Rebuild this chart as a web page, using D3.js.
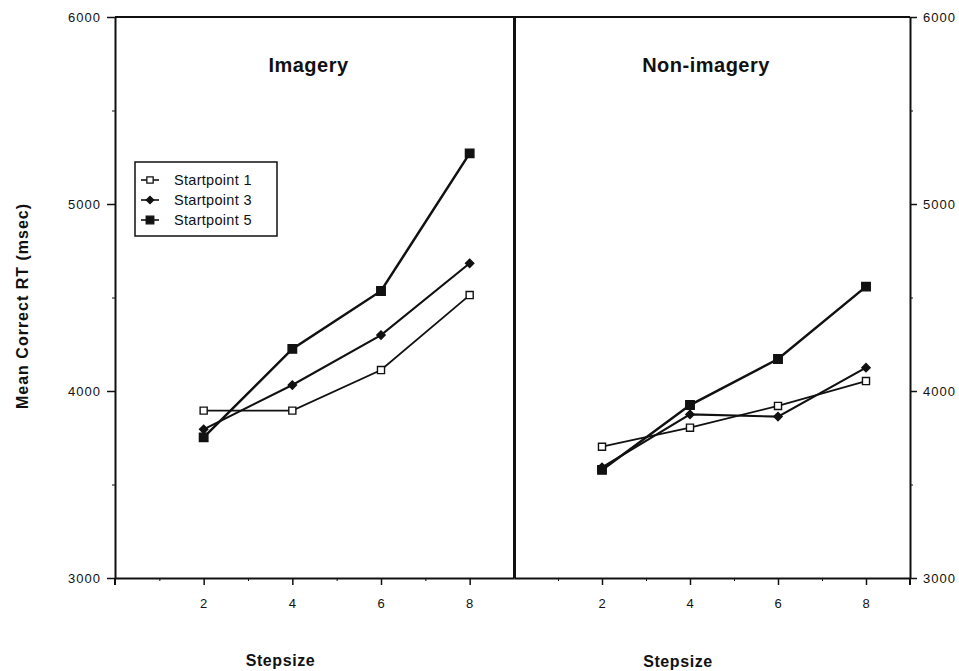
<!DOCTYPE html>
<html>
<head>
<meta charset="utf-8">
<script src="https://cdn.jsdelivr.net/npm/d3@7"></script>
<style>
  body { margin: 0; background: #fff; }
  svg { display: block; font-family: "Liberation Sans", Arial, Helvetica, sans-serif; }
  .tick text { font-size: 13px; letter-spacing: 1px; fill: #111; font-family: "Liberation Sans", Arial, sans-serif; }
  .axis path, .axis line { stroke: #111; }
</style>
</head>
<body>
<svg id="chart" width="959" height="671"></svg>
<script>
// values
const stepsizes = [2, 4, 6, 8];
const seriesNames = ['Startpoint 1', 'Startpoint 3', 'Startpoint 5'];
const imagerySP1 = [3895, 3895, 4112, 4513];
const imagerySP3 = [3795, 4032, 4299, 4683];
const imagerySP5 = [3752, 4225, 4535, 5271];
const nonImagerySP1 = [3702, 3804, 3920, 4053];
const nonImagerySP3 = [3592, 3875, 3863, 4125];
const nonImagerySP5 = [3578, 3925, 4171, 4558];
const yMajorTicks = [3000, 4000, 5000, 6000];
const yMinorTicks = [3500, 4500, 5500];
const xMajorTicks = [2, 4, 6, 8];
const xMinorTicks = [1, 3, 5, 7];

// diamond = square turned 45 degrees
const seriesStyle = [
  { symbol: d3.symbolSquare, size: 50, fill: '#fff', width: 1.8, rotate: 0 },
  { symbol: d3.symbolSquare, size: 34, fill: '#111', width: 2.1, rotate: 45 },
  { symbol: d3.symbolSquare, size: 72, fill: '#111', width: 2.5, rotate: 0 }
];

const svg = d3.select('#chart');
const plotTop = 17, plotBottom = 578;
const y = d3.scaleLinear().domain([3000, 6000]).range([plotBottom, plotTop]);

const panels = [
  { title: 'Imagery', x0: 115, x1: 514, series: [imagerySP1, imagerySP3, imagerySP5], labelY: 666 },
  { title: 'Non-imagery', x0: 514, x1: 910, series: [nonImagerySP1, nonImagerySP3, nonImagerySP5], labelY: 667 }
];

// top border and divider
svg.append('line').attr('x1', 115).attr('x2', 910).attr('y1', plotTop).attr('y2', plotTop)
  .attr('stroke', '#111').attr('stroke-width', 2);
svg.append('line').attr('x1', 514.5).attr('x2', 514.5).attr('y1', plotTop).attr('y2', plotBottom)
  .attr('stroke', '#111').attr('stroke-width', 3);

// y axes
const yLeft = svg.append('g').attr('class', 'axis').attr('transform', 'translate(115,0)')
  .call(d3.axisLeft(y).tickValues(yMajorTicks).tickSize(8).tickPadding(6).tickSizeOuter(0).tickFormat(d3.format('d')));
yLeft.select('.domain').attr('stroke-width', 2);
yLeft.selectAll('.tick line').attr('stroke-width', 1.5);
svg.append('g').attr('class', 'axis').attr('transform', 'translate(115,0)')
  .call(d3.axisLeft(y).tickValues(yMinorTicks).tickSize(3).tickFormat('').tickSizeOuter(0))
  .select('.domain').remove();

const yRight = svg.append('g').attr('class', 'axis').attr('transform', 'translate(910,0)')
  .call(d3.axisRight(y).tickValues(yMajorTicks).tickSize(7).tickPadding(6).tickSizeOuter(0).tickFormat(d3.format('d')));
yRight.select('.domain').attr('stroke-width', 2);
yRight.selectAll('.tick line').attr('stroke-width', 1.5);
svg.append('g').attr('class', 'axis').attr('transform', 'translate(910,0)')
  .call(d3.axisRight(y).tickValues(yMinorTicks).tickSize(3).tickFormat('').tickSizeOuter(0))
  .select('.domain').remove();

// extend outer axis lines slightly below the bottom
[115, 910].forEach(xp => {
  svg.append('line').attr('x1', xp).attr('x2', xp).attr('y1', plotBottom).attr('y2', plotBottom + 7)
    .attr('stroke', '#111').attr('stroke-width', 2);
});

svg.append('text')
  .attr('transform', 'translate(28,306) rotate(-90)')
  .attr('text-anchor', 'middle')
  .attr('font-size', 16).attr('font-weight', 'bold').attr('letter-spacing', 1)
  .attr('fill', '#111')
  .text('Mean Correct RT (msec)');

panels.forEach(p => {
  const x = d3.scaleLinear().domain([0, 9]).range([p.x0, p.x1]);

  const xAxis = svg.append('g').attr('class', 'axis').attr('transform', `translate(0,${plotBottom})`)
    .call(d3.axisBottom(x).tickValues(xMajorTicks).tickSize(7).tickPadding(14).tickSizeOuter(0));
  xAxis.select('.domain').attr('stroke-width', 2);
  xAxis.selectAll('.tick line').attr('stroke-width', 1.5);
  svg.append('g').attr('class', 'axis').attr('transform', `translate(0,${plotBottom})`)
    .call(d3.axisBottom(x).tickValues(xMinorTicks).tickSize(3).tickFormat(''))
    .select('.domain').remove();

  const cx = (p.x0 + p.x1) / 2;
  svg.append('text')
    .attr('x', cx - 6).attr('y', 72)
    .attr('text-anchor', 'middle')
    .attr('font-size', 20).attr('font-weight', 'bold').attr('letter-spacing', 0.5)
    .attr('fill', '#111')
    .text(p.title);

  svg.append('text')
    .attr('x', cx - 34).attr('y', p.labelY)
    .attr('text-anchor', 'middle')
    .attr('font-size', 16).attr('font-weight', 'bold').attr('letter-spacing', 0.6)
    .attr('fill', '#111')
    .text('Stepsize');

  const line = d3.line().x((d, i) => x(stepsizes[i])).y(d => y(d));

  p.series.forEach((vals, si) => {
    const st = seriesStyle[si];
    svg.append('path').datum(vals)
      .attr('d', line)
      .attr('fill', 'none').attr('stroke', '#111').attr('stroke-width', st.width);
  });
  // markers on top
  p.series.forEach((vals, si) => {
    const st = seriesStyle[si];
    svg.append('g').selectAll('path').data(vals).join('path')
      .attr('transform', (d, i) => `translate(${x(stepsizes[i])},${y(d)}) rotate(${st.rotate})`)
      .attr('d', d3.symbol().type(st.symbol).size(st.size))
      .attr('fill', st.fill).attr('stroke', '#111').attr('stroke-width', 1.4);
  });
});

// legend
const legend = svg.append('g').attr('transform', 'translate(135,162)');
legend.append('rect').attr('width', 142).attr('height', 74)
  .attr('fill', '#fff').attr('stroke', '#111').attr('stroke-width', 1.5);
seriesNames.forEach((name, i) => {
  const st = seriesStyle[i];
  const ly = 18 + i * 20;
  legend.append('line').attr('x1', 6).attr('x2', 24).attr('y1', ly).attr('y2', ly)
    .attr('stroke', '#111').attr('stroke-width', 1.6);
  legend.append('path')
    .attr('transform', `translate(15,${ly}) rotate(${st.rotate})`)
    .attr('d', d3.symbol().type(st.symbol).size(st.size * 0.8))
    .attr('fill', st.fill).attr('stroke', '#111').attr('stroke-width', 1.3);
  legend.append('text')
    .attr('x', 39).attr('y', ly + 5)
    .attr('font-size', 14.5).attr('letter-spacing', 0.3)
    .attr('fill', '#111')
    .text(name);
});
</script>
</body>
</html>
